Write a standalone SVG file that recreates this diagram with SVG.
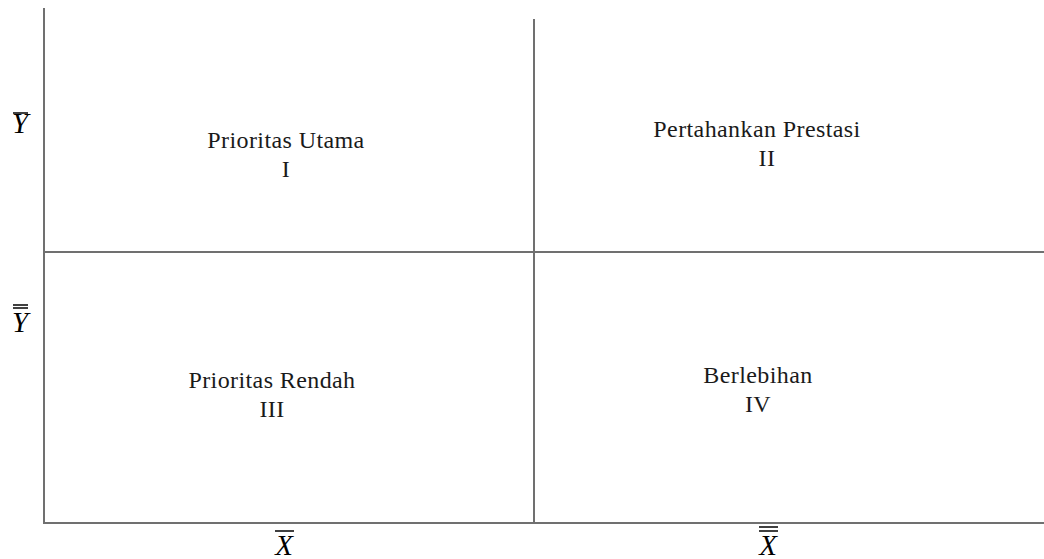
<svg xmlns="http://www.w3.org/2000/svg" width="1044" height="559" viewBox="0 0 1044 559">
<style>
.ax{stroke:#707070;stroke-width:2;fill:none}
.bar{stroke:#000;stroke-width:1.5}
.lbl{font-family:"Liberation Serif",serif;font-size:24px;letter-spacing:0.4px;fill:#1a1a1a;text-anchor:middle}
.var{font-family:"Liberation Serif",serif;font-style:italic;font-size:29px;fill:#000;text-anchor:middle}
</style>
<rect width="1044" height="559" fill="#fff"/>
<g id="connectors">
<line class="ax" x1="44" y1="8" x2="44" y2="523"/>
<line class="ax" x1="534" y1="19" x2="534" y2="523"/>
<line class="ax" x1="43" y1="252" x2="1044" y2="252"/>
<line class="ax" x1="43" y1="523" x2="1044" y2="523"/>
</g>
<g id="q1"><text class="lbl" x="286" y="148">Prioritas Utama</text><text class="lbl" x="286" y="177">I</text></g>
<g id="q2"><text class="lbl" x="757" y="137">Pertahankan Prestasi</text><text class="lbl" x="767" y="166">II</text></g>
<g id="q3"><text class="lbl" x="272" y="388">Prioritas Rendah</text><text class="lbl" x="272" y="417">III</text></g>
<g id="q4"><text class="lbl" x="758" y="383">Berlebihan</text><text class="lbl" x="758" y="412">IV</text></g>
<g id="ybar"><text class="var" x="20" y="133">Y</text><line class="bar" x1="13" y1="113" x2="28" y2="113"/></g>
<g id="ydbar"><text class="var" x="20" y="332">Y</text><line class="bar" x1="13" y1="305" x2="28" y2="305"/><line class="bar" x1="13" y1="308" x2="28" y2="308"/></g>
<g id="xbar"><text class="var" x="284" y="555">X</text><line class="bar" x1="275" y1="531" x2="294" y2="531"/></g>
<g id="xdbar"><text class="var" x="768" y="555">X</text><line class="bar" x1="759" y1="527" x2="778" y2="527"/><line class="bar" x1="759" y1="531" x2="778" y2="531"/></g>
</svg>
